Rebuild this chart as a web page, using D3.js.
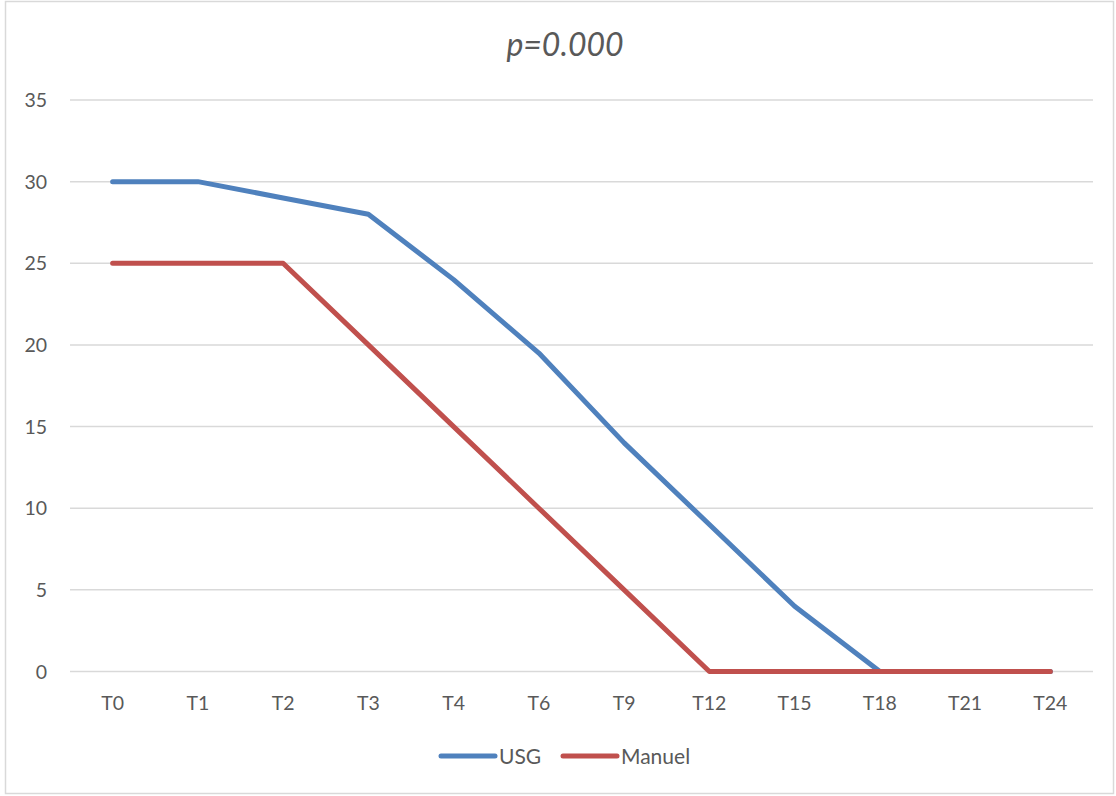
<!DOCTYPE html>
<html><head><meta charset="utf-8">
<script src="https://cdn.jsdelivr.net/npm/d3@7"></script>
<style>body{margin:0;background:#fff}svg{display:block}text{font-family:Lato,"Open Sans",sans-serif;fill:#595959}</style>
</head><body>
<svg id="c" width="1116" height="796"></svg>
<script>
const categories = ["T0","T1","T2","T3","T4","T6","T9","T12","T15","T18","T21","T24"];
const usg = [30,30,29,28,24,19.5,14,9,4,0,0,0];
const manuel = [25,25,25,20,15,10,5,0,0,0,0,0];
const yTicks = [0,5,10,15,20,25,30,35];
const seriesNames = ["USG","Manuel"];
const colors = ["#4F81BD","#C0504D"];

const svg = d3.select("#c");
svg.append("rect").attr("x",5.5).attr("y",1.5).attr("width",1108).attr("height",792)
  .attr("fill","#fff").attr("stroke","#d9d9d9").attr("stroke-width",1.5);

const L=70,R=1093,T=100,B=671.5;
const x = d3.scaleBand().domain(categories).range([L,R]);
const y = d3.scaleLinear().domain([0,35]).range([B,T]);

svg.append("g").selectAll("line").data(yTicks).join("line")
  .attr("x1",L).attr("x2",R).attr("y1",d=>y(d)).attr("y2",d=>y(d))
  .attr("stroke","#d9d9d9").attr("stroke-width",1.5);

svg.append("g").selectAll("text").data(yTicks).join("text")
  .attr("x",47).attr("y",d=>y(d)).attr("dy","0.36em").attr("text-anchor","end")
  .attr("font-size",19.5).text(d=>d);

svg.append("g").selectAll("text").data(categories).join("text")
  .attr("x",d=>x(d)+x.bandwidth()/2).attr("y",710).attr("text-anchor","middle")
  .attr("font-size",19.5).text(d=>d);

svg.append("text").attr("x",565).attr("y",56).attr("text-anchor","middle")
  .attr("font-size",32).attr("font-style","italic").text("p=0.000");

const line = d3.line().x((d,i)=>x(categories[i])+x.bandwidth()/2).y(d=>y(d));
[usg,manuel].forEach((s,k)=>{
  svg.append("path").datum(s).attr("d",line).attr("fill","none")
    .attr("stroke",colors[k]).attr("stroke-width",5).attr("stroke-linecap","round").attr("stroke-linejoin","round");
});

const lg = svg.append("g");
const lx=[441,563];
seriesNames.forEach((n,k)=>{
  lg.append("line").attr("x1",lx[k]).attr("x2",lx[k]+54).attr("y1",756).attr("y2",756)
    .attr("stroke",colors[k]).attr("stroke-width",5).attr("stroke-linecap","round");
  lg.append("text").attr("x",lx[k]+58).attr("y",756).attr("dy","0.36em").attr("font-size",21).text(n);
});
</script>
</body></html>
